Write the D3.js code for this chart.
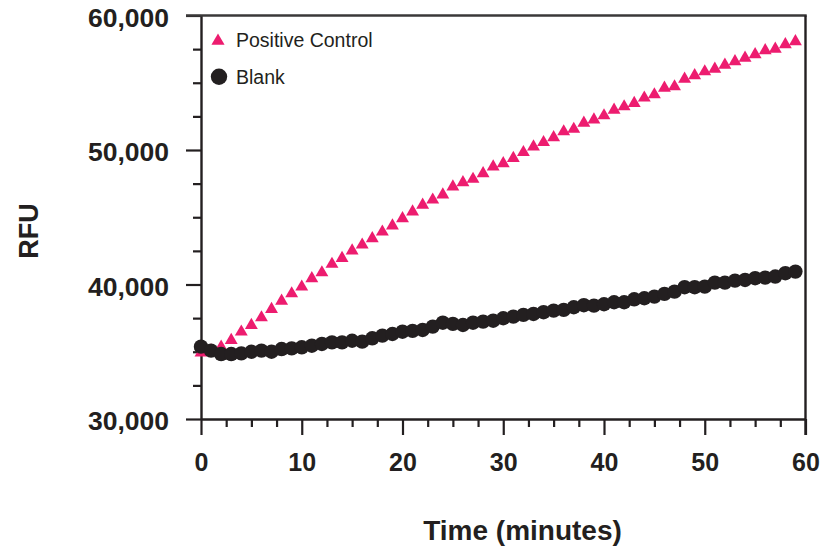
<!DOCTYPE html>
<html>
<head>
<meta charset="utf-8">
<script src="https://cdn.jsdelivr.net/npm/d3@7"></script>
<style>
  body { margin: 0; background: #fff; }
  text { font-family: "Liberation Sans", Arial, Helvetica, sans-serif; fill: #231f20; }
</style>
</head>
<body>
<div id="chart"></div>
<script>
// time points (minutes)
const minutes = [0, 1, 2, 3, 4, 5, 6, 7, 8, 9, 10, 11, 12, 13, 14, 15, 16, 17, 18, 19,
  20, 21, 22, 23, 24, 25, 26, 27, 28, 29, 30, 31, 32, 33, 34, 35, 36, 37, 38, 39,
  40, 41, 42, 43, 44, 45, 46, 47, 48, 49, 50, 51, 52, 53, 54, 55, 56, 57, 58, 59];

// RFU readings
const positiveControl = [35000, 35150, 35430, 35930, 36550, 37040, 37610, 38230, 38850, 39400,
  39900, 40520, 40960, 41590, 42030, 42580, 43020, 43490, 43990, 44440,
  44980, 45480, 45980, 46370, 46750, 47340, 47660, 47910, 48330, 48830,
  49070, 49460, 49900, 50320, 50640, 51010, 51440, 51630, 52080, 52330,
  52630, 53050, 53300, 53550, 53950, 54190, 54690, 54790, 55360, 55610,
  55900, 56100, 56400, 56650, 56920, 57170, 57470, 57590, 57920, 58140];

const blank = [35380, 35080, 34830, 34830, 34880, 35000, 35080, 35000, 35200, 35250,
  35330, 35450, 35580, 35700, 35700, 35820, 35750, 36000, 36200, 36320,
  36490, 36550, 36620, 36870, 37160, 37070, 36990, 37160, 37240, 37310,
  37490, 37610, 37740, 37810, 37940, 38060, 38110, 38310, 38460, 38430,
  38530, 38680, 38680, 38900, 38980, 39100, 39300, 39470, 39800, 39800,
  39840, 40140, 40140, 40290, 40340, 40470, 40510, 40590, 40840, 40960];

const xMajorTicks = [0, 10, 20, 30, 40, 50, 60];
const yMajorTicks = [30000, 40000, 50000, 60000];
const seriesNames = ["Positive Control", "Blank"];

const width = 825, height = 548;
const margin = { top: 15.5, right: 19.5, bottom: 129, left: 201 };
const ink = "#231f20", pink = "#ed1c6f";

const svg = d3.select("#chart").append("svg")
  .attr("width", width)
  .attr("height", height);

const x = d3.scaleLinear().domain([0, 60]).range([margin.left, width - margin.right]);
const y = d3.scaleLinear().domain([30000, 60000]).range([height - margin.bottom, margin.top]);

// minor ticks
const xMinor = d3.range(0, 60.01, 2.5).filter((d) => d % 10 !== 0);
const yMinor = d3.range(30000, 60001, 2500).filter((d) => d % 10000 !== 0);

svg.append("g")
  .attr("transform", `translate(0,${y(30000)})`)
  .call(d3.axisBottom(x).tickValues(xMinor).tickSize(8).tickSizeOuter(0).tickFormat(""))
  .call((g) => g.select(".domain").remove());

svg.append("g")
  .attr("transform", `translate(${x(0)},0)`)
  .call(d3.axisLeft(y).tickValues(yMinor).tickSize(8).tickSizeOuter(0).tickFormat(""))
  .call((g) => g.select(".domain").remove());

// major axes
const xAxis = svg.append("g")
  .attr("transform", `translate(0,${y(30000)})`)
  .call(d3.axisBottom(x).tickValues(xMajorTicks).tickSize(16).tickSizeOuter(0).tickPadding(18));

const yAxis = svg.append("g")
  .attr("transform", `translate(${x(0)},0)`)
  .call(d3.axisLeft(y).tickValues(yMajorTicks).tickSize(15).tickSizeOuter(0).tickPadding(17)
    .tickFormat(d3.format(",")));

svg.selectAll(".tick line").attr("stroke", ink).attr("stroke-width", 2.2);
svg.selectAll(".domain").attr("stroke", ink).attr("stroke-width", 2.4);
svg.selectAll(".tick text")
  .attr("font-family", "'Liberation Sans', Arial, Helvetica, sans-serif")
  .attr("font-size", 25)
  .attr("font-weight", "bold")
  .attr("fill", ink);
yAxis.selectAll(".tick text").attr("font-size", 26.5).attr("dy", "0.4em");

// frame top and right
svg.append("line")
  .attr("x1", x(0) - 15).attr("x2", x(60) + 1.2)
  .attr("y1", y(60000)).attr("y2", y(60000))
  .attr("stroke", "#3a3839").attr("stroke-width", 2.6);
svg.append("line")
  .attr("x1", x(60)).attr("x2", x(60))
  .attr("y1", y(60000)).attr("y2", y(30000) + 16)
  .attr("stroke", ink).attr("stroke-width", 2.4);

// series
const tri = d3.symbol().type(d3.symbolTriangle).size(72);
svg.append("g").selectAll("path")
  .data(minutes)
  .enter()
  .append("path")
  .attr("d", tri)
  .attr("transform", (d, i) => `translate(${x(d)},${y(positiveControl[i]) + 1})`)
  .attr("fill", pink);

svg.append("g").selectAll("circle")
  .data(minutes)
  .enter()
  .append("circle")
  .attr("cx", (d) => x(d))
  .attr("cy", (d, i) => y(blank[i]))
  .attr("r", 7.2)
  .attr("fill", ink);

// legend
const legend = svg.append("g");
legend.append("path")
  .attr("d", d3.symbol().type(d3.symbolTriangle).size(75))
  .attr("transform", "translate(218,41)")
  .attr("fill", pink);
legend.append("circle")
  .attr("cx", 219).attr("cy", 76.7).attr("r", 8.2)
  .attr("fill", ink);
legend.selectAll("text")
  .data(seriesNames)
  .enter()
  .append("text")
  .attr("x", 236)
  .attr("y", (d, i) => (i === 0 ? 47 : 83.5))
  .attr("font-size", 19.5)
  .text((d) => d);

// axis titles
svg.append("text")
  .attr("x", 522.5)
  .attr("y", 540)
  .attr("text-anchor", "middle")
  .attr("font-size", 28)
  .attr("font-weight", "bold")
  .text("Time (minutes)");

svg.append("text")
  .attr("transform", "translate(38,231) rotate(-90)")
  .attr("text-anchor", "middle")
  .attr("font-size", 27)
  .attr("font-weight", "bold")
  .text("RFU");
</script>
</body>
</html>
